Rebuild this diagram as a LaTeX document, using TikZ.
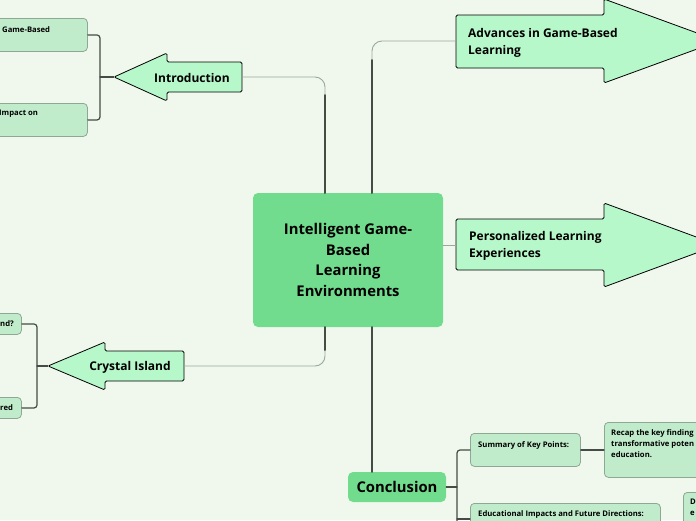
\documentclass[tikz,border=0pt]{standalone}
\usepackage{fontspec}
\setmainfont{Open Sans}
\usetikzlibrary{positioning}

\definecolor{bgcol}{HTML}{F0F8ED}
\definecolor{mainfill}{HTML}{72DC8E}
\definecolor{arrowfill}{HTML}{B6F8C9}
\definecolor{leaffill}{HTML}{C0ECCB}
\definecolor{leafline}{HTML}{8FA894}
\definecolor{linkdark}{HTML}{434D45}
\definecolor{linklight}{HTML}{9AA89D}

\tikzset{
  topic/.style={fill=mainfill, rounded corners=5pt, align=center,
    font=\fontsize{14.8}{20.5}\selectfont\bfseries},
  arrowbox/.style={draw=black, fill=arrowfill, line width=0.8pt, rounded corners=1.5pt},
  arrowtxt/.style={font=\fontsize{12}{17}\selectfont\bfseries, align=left, inner sep=0pt},
  leaf/.style={draw=leafline, fill=leaffill, line width=0.8pt, rounded corners=4pt,
    anchor=north west, inner sep=0pt},
  leaftxt/.style={font=\fontsize{7.7}{11}\selectfont\bfseries, align=left,
    anchor=north west, inner sep=0pt},
  thinlink/.style={draw=linklight, line width=0.9pt, rounded corners=10pt},
  thicklink/.style={draw=linkdark, line width=2pt},
  bracket/.style={draw=linkdark, line width=1.2pt, rounded corners=3pt},
}

\begin{document}
\begin{tikzpicture}[x=1pt, y=-1pt, line join=round, line cap=round]
  % page and background
  \useasboundingbox (0,0) rectangle (696,520);
  \fill[bgcol] (0,0) rectangle (696,520);
  \clip (0,0) rectangle (696,520);

  % central topic
  \node[topic, minimum width=190pt, minimum height=134pt] (main) at (348,260)
    {Intelligent Game-\\Based\\Learning\\Environments};

  % anchor points on the central topic
  \coordinate (cTopL) at (325,193);
  \coordinate (cTopR) at (372,193);
  \coordinate (cBotL) at (325,327);
  \coordinate (cBotR) at (372,327);
  \coordinate (cRight) at (443,245);

  % Introduction (arrow to the left)
  \draw[arrowbox] (114,77) -- (167,53) -- (167,62) -- (242,62) -- (242,92)
    -- (167,92) -- (167,101) -- cycle;
  \node[arrowtxt] (intro) at (192,78) {Introduction};
  \coordinate (introR) at (242,77);
  \coordinate (introTip) at (114,77);

  % Crystal Island (arrow to the left)
  \draw[arrowbox] (48,366) -- (105,342) -- (105,351) -- (184,351) -- (184,381)
    -- (105,381) -- (105,390) -- cycle;
  \node[arrowtxt] (crystal) at (130,367) {Crystal Island};
  \coordinate (crystR) at (184,366);
  \coordinate (crystTip) at (48,366);

  % Advances in Game-Based Learning (arrow to the right)
  \draw[arrowbox] (456,15) -- (604,15) -- (604,-1) -- (719,41) -- (604,83)
    -- (604,68) -- (456,68) -- cycle;
  \node[arrowtxt, anchor=west] (adv) at (468,43) {Advances in Game-Based\\Learning};
  \coordinate (advL) at (456,41);

  % Personalized Learning Experiences (arrow to the right)
  \draw[arrowbox] (456,219) -- (604,219) -- (604,203) -- (718,245) -- (604,287)
    -- (604,270) -- (456,270) -- cycle;
  \node[arrowtxt, anchor=west] (pers) at (469,246) {Personalized Learning\\Experiences};
  \coordinate (persL) at (456,245);

  % Conclusion
  \node[topic, minimum width=98pt, minimum height=30pt] (concl) at (397,487) {Conclusion};

  % links from the central topic
  \draw[thinlink] (introR) -- (325,77) -- (cTopL);
  \draw[thicklink] (325,95) -- (cTopL);
  \draw[thinlink] (crystR) -- (325,366) -- (cBotL);
  \draw[thicklink] (325,350) -- (cBotL);
  \draw[thinlink] (advL) -- (372,41) -- (cTopR);
  \draw[thicklink] (372,60) -- (cTopR);
  \draw[thinlink] (cRight) -- (persL);
  \draw[thicklink] (cBotR) -- (concl.north -| cBotR);

  % Introduction children
  \node[leaf, minimum width=97pt, minimum height=33pt] (introA) at (-10,18) {};
  \node[leaftxt] at (2,26) {Game-Based};
  \node[leaf, minimum width=97pt, minimum height=33pt] (introB) at (-10,103) {};
  \node[leaftxt] at (-1,110) {Impact on};
  \draw[bracket] (introA.east) -- (100,35) -- (100,120) -- (introB.east);
  \draw[bracket] (100,77) -- (introTip);

  % Crystal Island children
  \node[leaf, minimum width=31pt, minimum height=21pt] (crystA) at (-10,313) {};
  \node[leaftxt] at (0,320) {nd?};
  \node[leaf, minimum width=31pt, minimum height=21pt] (crystB) at (-10,397) {};
  \node[leaftxt] at (0,404) {red};
  \draw[bracket] (crystA.east) -- (37,324) -- (37,408) -- (crystB.east);
  \draw[bracket] (37,366) -- (crystTip);

  % Conclusion children
  \node[leaf, minimum width=110pt, minimum height=33pt] (summ) at (470,433) {};
  \node[leaftxt] at (478,441) {Summary of Key Points:};
  \node[leaf, minimum width=190pt, minimum height=40pt] (edu) at (470,503) {};
  \node[leaftxt] at (478,510) {Educational Impacts and Future Directions:};
  \draw[bracket] (concl.east) -- (457,487);
  \draw[bracket] (470,450) -- (457,450) -- (457,530);
  \draw[bracket] (457,519) -- (470,519);

  % second level under Conclusion
  \node[leaf, minimum width=110pt, minimum height=55pt] (recap) at (604,422) {};
  \node[leaftxt] at (611,429) {Recap the key finding\\transformative poten\\education.};
  \node[leaf, minimum width=40pt, minimum height=40pt] (eduD) at (683,492) {};
  \node[leaftxt] at (690,499) {D\\e};
  \draw[bracket] (summ.east) -- (recap.west |- summ.east);
\end{tikzpicture}
\end{document}
